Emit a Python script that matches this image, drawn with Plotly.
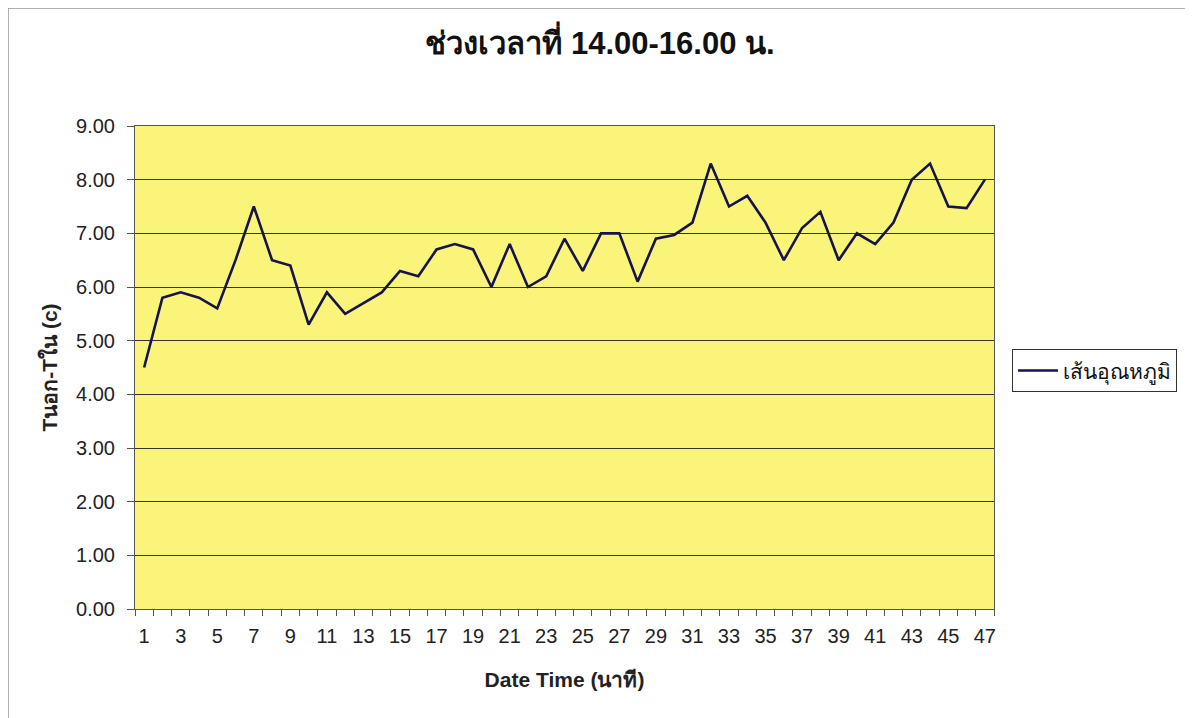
import plotly.graph_objects as go

minutes = list(range(1, 48))
temp_diff = [4.5, 5.8, 5.9, 5.8, 5.6, 6.5, 7.5, 6.5, 6.4, 5.3,
             5.9, 5.5, 5.7, 5.9, 6.3, 6.2, 6.7, 6.8, 6.7, 6.0,
             6.8, 6.0, 6.2, 6.9, 6.3, 7.0, 7.0, 6.1, 6.9, 6.97,
             7.2, 8.3, 7.5, 7.7, 7.2, 6.5, 7.1, 7.4, 6.5, 7.0,
             6.8, 7.2, 8.0, 8.3, 7.5, 7.47, 8.0]
tick_labels = [str(m) for m in minutes[::2]]

title_text = "ช่วงเวลาที่ 14.00-16.00 น."
series_name = "เส้นอุณหภูมิ"
x_title = "Date Time (นาที)"
y_title = "Tนอก-Tใน (c)"

FONT = "Liberation Sans, Arial, Noto Sans, sans-serif"

fig = go.Figure()
fig.add_trace(go.Scatter(
    x=minutes, y=temp_diff, mode="lines", name=series_name,
    line=dict(color="#16144A", width=2.6),
    showlegend=True,
))

fig.update_layout(
    width=1193, height=718,
    paper_bgcolor="white",
    plot_bgcolor="#FAF47A",
    margin=dict(l=127, r=207, t=118, b=117),
    font=dict(family=FONT, color="#222222"),
    title=dict(text="<b>" + title_text + "</b>", x=592 / 1193, xref="container", xanchor="center",
               y=1 - 35 / 718, yref="container", yanchor="middle",
               font=dict(size=31, color="#111111", family=FONT)),
    legend=dict(x=1.021, y=0.493, xanchor="left", yanchor="middle",
                bordercolor="#333333", borderwidth=1, bgcolor="white",
                font=dict(size=21, color="#111111", family=FONT),
                itemwidth=40),
    showlegend=True,
)

fig.update_xaxes(
    range=[0.5, 47.5],
    tickmode="array", tickvals=minutes[::2], ticktext=tick_labels,
    ticks="", tickfont=dict(size=20, color="#222222"),
    ticklabelstandoff=9,
    showgrid=False, zeroline=False,
    showline=True, linecolor="#555555", linewidth=1, mirror=True,
    minor=dict(ticks="outside", tick0=0.5, dtick=1, ticklen=6, tickcolor="#555555", showgrid=False),
    title=dict(text="<b>" + x_title + "</b>", font=dict(size=21, color="#222222"), standoff=26),
)
fig.update_yaxes(
    range=[0, 9], dtick=1, tickformat=".2f",
    ticks="outside", ticklen=7, tickcolor="#555555",
    tickfont=dict(size=20, color="#222222"),
    ticklabelstandoff=8,
    showgrid=True, gridcolor="#333333", gridwidth=1,
    zeroline=False,
    showline=True, linecolor="#555555", linewidth=1, mirror=True,
    title=dict(text="<b>" + y_title + "</b>", font=dict(size=21, color="#222222"), standoff=12),
)

# outer chart-area border
fig.add_shape(type="rect", xref="paper", yref="paper",
              x0=(8 - 135) / 859, x1=(1205 - 135) / 859, y0=(609 - 730) / 483, y1=(609 - 8) / 483,
              line=dict(color="#9A9A9A", width=1.5), fillcolor="rgba(0,0,0,0)", layer="below")

fig.write_html("out.html")
